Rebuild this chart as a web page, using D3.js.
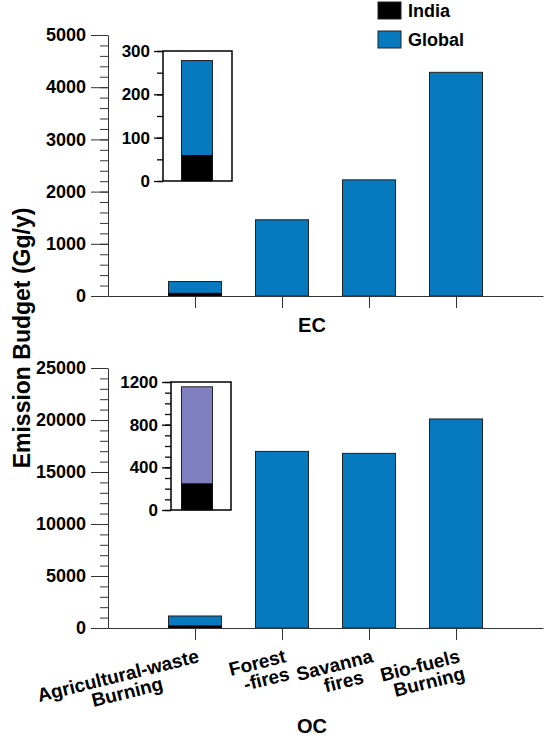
<!DOCTYPE html>
<html>
<head>
<meta charset="utf-8">
<script src="https://cdn.jsdelivr.net/npm/d3@7"></script>
<style>
  body { margin: 0; background: #fff; }
  svg text { font-family: "Liberation Sans", Arial, sans-serif; font-weight: bold; fill: #000; }
</style>
</head>
<body>
<div id="chart"></div>
<script>
// values (Gg/y)
const categories = ["Agricultural-waste Burning", "Forest -fires", "Savanna fires", "Bio-fuels Burning"];
const categoryLines = [["Agricultural-waste", "Burning"], ["Forest", "-fires"], ["Savanna", "fires"], ["Bio-fuels", "Burning"]];
const ecGlobal = [278, 1460, 2225, 4285];
const ecIndia = [60, 0, 0, 0];
const ocGlobal = [1155, 16980, 16790, 20100];
const ocIndia = [250, 0, 0, 0];
const ecTicks = [0, 1000, 2000, 3000, 4000, 5000];
const ocTicks = [0, 5000, 10000, 15000, 20000, 25000];
const ecInsetTicks = [0, 100, 200, 300];
const ocInsetTicks = [0, 400, 800, 1200];
const legendLabels = ["India", "Global"];

const blue = "#0779be", purple = "#8080c0", black = "#000";

let svg = d3.select("#chart")
  .append("svg")
    .attr("width", 544)
    .attr("height", 739);

// shared x positions: 4 categories with one empty step on each side
let x = d3.scalePoint()
    .domain(categories)
    .range([108, 543])
    .padding(1);
let barWidth = 53;

function drawPanel (p) {
  let y = d3.scaleLinear().domain(p.domain).range(p.range);
  let g = svg.append("g");

  // minor ticks
  g.append("g")
      .attr("transform", "translate(108,0)")
      .call(d3.axisLeft(y).tickValues(d3.range(0, p.domain[1] + 1, p.minor)).tickSize(8).tickFormat(""))
      .call(a => a.select(".domain").remove());
  // major ticks + labels
  g.append("g")
      .attr("transform", "translate(108,0)")
      .call(d3.axisLeft(y).tickValues(p.ticks).tickSize(17).tickSizeOuter(0).tickPadding(5).tickFormat(d3.format("d")))
      .call(a => a.selectAll("text").style("font-size", "18px"));

  // bars: global first, india stacked from the bottom
  g.selectAll("rect.global")
    .data(p.global)
    .enter().append("rect")
      .attr("x", (d, i) => x(categories[i]) - barWidth / 2)
      .attr("y", d => y(d))
      .attr("width", barWidth)
      .attr("height", d => y(0) - y(d))
      .attr("fill", blue)
      .attr("stroke", "#222")
      .attr("stroke-width", 1);
  g.selectAll("rect.india")
    .data(p.india.filter(d => d > 0))
    .enter().append("rect")
      .attr("x", (d, i) => x(categories[i]) - barWidth / 2)
      .attr("y", d => y(d))
      .attr("width", barWidth)
      .attr("height", d => y(0) - y(d))
      .attr("fill", black);

  // x axis
  g.append("g")
      .attr("transform", "translate(0," + y(0) + ")")
      .call(d3.axisBottom(x).tickSize(12).tickSizeOuter(0).tickFormat(""));
  g.selectAll(".domain, .tick line").attr("stroke", "#333");

  // inset with the agricultural-waste bar zoomed in
  let ins = p.inset;
  let yi = d3.scaleLinear().domain(ins.domain).range(ins.range);
  let gi = svg.append("g");
  gi.append("rect")
      .attr("x", ins.left).attr("y", yi(ins.domain[1]))
      .attr("width", ins.right - ins.left)
      .attr("height", yi(0) - yi(ins.domain[1]))
      .attr("fill", "#fff").attr("stroke", "#000").attr("stroke-width", 1.5);
  gi.append("g")
      .attr("transform", "translate(" + ins.left + ",0)")
      .call(d3.axisLeft(yi).tickValues(d3.range(0, ins.domain[1] + 1, ins.minor)).tickSize(6).tickFormat(""))
      .call(a => a.select(".domain").remove());
  gi.append("g")
      .attr("transform", "translate(" + ins.left + ",0)")
      .call(d3.axisLeft(yi).tickValues(ins.ticks).tickSize(9).tickSizeOuter(0).tickPadding(4).tickFormat(d3.format("d")))
      .call(a => a.select(".domain").remove())
      .call(a => a.selectAll("text").style("font-size", "17px"));
  gi.selectAll(".tick line").attr("stroke", "#000").attr("stroke-width", 1.3);

  let cx = x(categories[0]) + 2, bw = 31;
  gi.append("rect")
      .attr("x", cx - bw / 2).attr("y", yi(p.global[0]))
      .attr("width", bw).attr("height", yi(0) - yi(p.global[0]))
      .attr("fill", ins.color).attr("stroke", "#222").attr("stroke-width", 1);
  gi.append("rect")
      .attr("x", cx - bw / 2).attr("y", yi(p.india[0]))
      .attr("width", bw).attr("height", yi(0) - yi(p.india[0]))
      .attr("fill", black);

  // panel label (EC / OC)
  svg.append("text")
      .attr("x", 312).attr("y", p.labelY)
      .attr("text-anchor", "middle")
      .style("font-size", "20px")
      .text(p.label);
  return y;
}

drawPanel({
  domain: [0, 5000], range: [296, 35], ticks: ecTicks, minor: 200,
  global: ecGlobal, india: ecIndia, label: "EC", labelY: 332,
  inset: { domain: [0, 300], range: [181, 51], ticks: ecInsetTicks, minor: 50, left: 163, right: 232, color: blue }
});

drawPanel({
  domain: [0, 25000], range: [628, 368], ticks: ocTicks, minor: 1000,
  global: ocGlobal, india: ocIndia, label: "OC", labelY: 733,
  inset: { domain: [0, 1200], range: [510, 382], ticks: ocInsetTicks, minor: 100, left: 171, right: 231, color: purple }
});

// rotated two-line category labels under the bottom panel
let lab = svg.selectAll("g.catlabel")
  .data(categories)
  .enter().append("g")
    .attr("transform", d => "translate(" + (x(d) + 5) + ",662) rotate(-14)")
    .style("font-size", "19px");
lab.each(function (d, i) {
  let g = d3.select(this);
  let t1 = g.append("text").attr("text-anchor", "end").text(categoryLines[i][0]);
  let w1 = t1.node().getComputedTextLength();
  g.append("text")
      .attr("text-anchor", "middle")
      .attr("x", -w1 / 2 + 5)
      .attr("y", 18)
      .text(categoryLines[i][1]);
});

// y axis title
svg.append("text")
    .attr("transform", "translate(30,338) rotate(-90)")
    .attr("text-anchor", "middle")
    .style("font-size", "23px")
    .text("Emission Budget (Gg/y)");

// legend
let legend = svg.selectAll("g.legend")
  .data(legendLabels)
  .enter().append("g")
    .attr("transform", (d, i) => "translate(378," + (2 + i * 29) + ")");
legend.append("rect")
    .attr("width", 23).attr("height", 17)
    .attr("fill", (d, i) => i === 0 ? black : blue)
    .attr("stroke", "#222");
legend.append("text")
    .attr("x", 30).attr("y", 15)
    .style("font-size", "18px")
    .text(d => d);
</script>
</body>
</html>
